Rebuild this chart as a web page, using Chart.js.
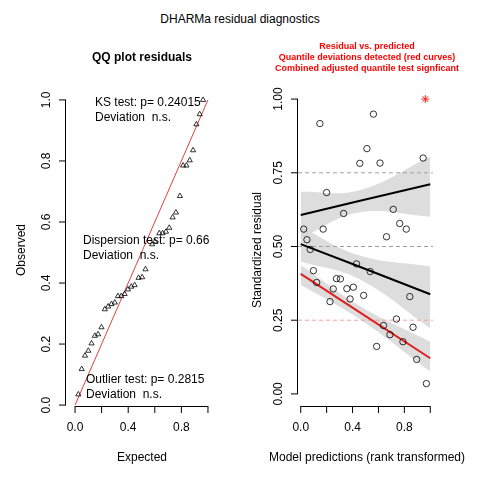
<!DOCTYPE html>
<html>
<head>
<meta charset="utf-8">
<script src="https://cdn.jsdelivr.net/npm/chart.js@4/dist/chart.umd.min.js"></script>
<style>
  body { margin: 0; background: #fff; }
  #wrap { position: relative; width: 480px; height: 480px; font-family: "Liberation Sans", Arial, sans-serif; }
  canvas { position: absolute; top: 0; }
  #title { position: absolute; top: 12px; left: 0; width: 480px; text-align: center; font-size: 12px; }
</style>
</head>
<body>
<div id="wrap">
  <div id="title">DHARMa residual diagnostics</div>
  <canvas id="qq" width="240" height="480" style="left:0"></canvas>
  <canvas id="res" width="240" height="480" style="left:240px"></canvas>
</div>
<script>
// QQ plot: expected vs observed quantiles
const qqExpected = [0.025, 0.05, 0.075, 0.1, 0.124, 0.149, 0.174, 0.199, 0.224, 0.249, 0.274, 0.299, 0.323,
  0.348, 0.373, 0.398, 0.423, 0.448, 0.478, 0.505, 0.53, 0.58, 0.602, 0.634, 0.659, 0.684, 0.709, 0.734,
  0.759, 0.789, 0.813, 0.838, 0.863, 0.888, 0.913, 0.938, 0.963];
const qqObserved = [0.035, 0.118, 0.162, 0.178, 0.202, 0.227, 0.232, 0.255, 0.314, 0.323, 0.331, 0.336, 0.357,
  0.357, 0.364, 0.379, 0.388, 0.393, 0.417, 0.419, 0.445, 0.527, 0.536, 0.563, 0.563, 0.568, 0.581, 0.615,
  0.631, 0.685, 0.785, 0.785, 0.802, 0.835, 0.92, 0.953, 1.0];

// residual vs predicted
const predX = [0.023, 0.048, 0.073, 0.098, 0.123, 0.148, 0.173, 0.2, 0.226, 0.251, 0.276, 0.306, 0.331, 0.356,
  0.381, 0.406, 0.431, 0.456, 0.486, 0.511, 0.536, 0.561, 0.586, 0.612, 0.639, 0.662, 0.689, 0.714, 0.739,
  0.764, 0.789, 0.815, 0.842, 0.867, 0.895, 0.945, 0.97];
const residY = [0.559, 0.523, 0.49, 0.418, 0.378, 0.917, 0.559, 0.683, 0.313, 0.356, 0.391, 0.39, 0.612, 0.357,
  0.322, 0.362, 0.441, 0.782, 0.334, 0.832, 0.415, 0.949, 0.161, 0.783, 0.232, 0.533, 0.201, 0.626, 0.254,
  0.578, 0.177, 0.559, 0.33, 0.226, 0.117, 0.8, 0.035];
const outlierX = [0.962];
const outlierY = [1.0];

// quantile regression fits (x = 0, 0.45, 1)
const fitX = [0, 0.45, 1];
const q75Line = [0.607, 0.654, 0.711], q75Top = [0.686, 0.69, 0.805], q75Bot = [0.528, 0.615, 0.601];
const q50Line = [0.508, 0.432, 0.338], q50Top = [0.567, 0.47, 0.432], q50Bot = [0.449, 0.39, 0.223];
const q25Line = [0.407, 0.278, 0.121], q25Top = [0.437, 0.3, 0.177], q25Bot = [0.37, 0.255, 0.076];
const refLevels = [0.25, 0.5, 0.75];

const qqTicks = [0, 0.2, 0.4, 0.6, 0.8, 1];
const qqTickLabels = ["0.0", "", "0.4", "", "0.8", ""];
const qqYLabels = ["0.0", "0.2", "0.4", "0.6", "0.8", "1.0"];
const resXTicks = [0, 0.2, 0.4, 0.6, 0.8, 1];
const resXLabels = ["0.0", "", "0.4", "", "0.8", ""];
const resYTicks = [0, 0.25, 0.5, 0.75, 1];
const resYLabels = ["0.00", "0.25", "0.50", "0.75", "1.00"];

const FONT = '12px "Liberation Sans", Arial, sans-serif';
const pts = (xs, ys) => xs.map((x, i) => ({ x, y: ys[i] }));

// R-style axes, titles and legend text
const rAxes = (cfg) => ({
  id: "rAxes",
  afterDraw(chart) {
    const { ctx, chartArea: a, scales: { x, y } } = chart;
    ctx.save();
    ctx.strokeStyle = "#000";
    ctx.fillStyle = "#000";
    ctx.lineWidth = 1;
    ctx.font = FONT;
    // x axis
    const x0 = x.getPixelForValue(cfg.xTicks[0]);
    const x1 = x.getPixelForValue(cfg.xTicks[cfg.xTicks.length - 1]);
    ctx.beginPath();
    ctx.moveTo(x0, a.bottom + 0.5);
    ctx.lineTo(x1, a.bottom + 0.5);
    cfg.xTicks.forEach((t) => {
      const px = x.getPixelForValue(t);
      ctx.moveTo(px, a.bottom);
      ctx.lineTo(px, a.bottom + 7);
    });
    ctx.stroke();
    ctx.textAlign = "center";
    ctx.textBaseline = "middle";
    cfg.xTicks.forEach((t, i) => {
      if (cfg.xLabels[i]) ctx.fillText(cfg.xLabels[i], x.getPixelForValue(t), a.bottom + 22);
    });
    // y axis
    const y0 = y.getPixelForValue(cfg.yTicks[0]);
    const y1 = y.getPixelForValue(cfg.yTicks[cfg.yTicks.length - 1]);
    ctx.beginPath();
    ctx.moveTo(a.left - 0.5, y0);
    ctx.lineTo(a.left - 0.5, y1);
    cfg.yTicks.forEach((t) => {
      const py = y.getPixelForValue(t);
      ctx.moveTo(a.left, py);
      ctx.lineTo(a.left - 7, py);
    });
    ctx.stroke();
    cfg.yTicks.forEach((t, i) => {
      ctx.save();
      ctx.translate(a.left - 19, y.getPixelForValue(t));
      ctx.rotate(-Math.PI / 2);
      ctx.fillText(cfg.yLabels[i], 0, 0);
      ctx.restore();
    });
    // axis titles
    ctx.fillText(cfg.xTitle, cfg.xTitlePos, 458);
    ctx.save();
    ctx.translate(cfg.yTitlePos, 250);
    ctx.rotate(-Math.PI / 2);
    ctx.fillText(cfg.yTitle, 0, 0);
    ctx.restore();
    // panel titles
    cfg.titles.forEach((t) => {
      ctx.font = t.font;
      ctx.fillStyle = t.color;
      ctx.fillText(t.text, t.x, t.y);
    });
    // annotations
    ctx.font = FONT;
    ctx.fillStyle = "#000";
    ctx.textAlign = "left";
    (cfg.notes || []).forEach((n) => ctx.fillText(n.text, n.x, n.y));
    ctx.restore();
  },
});

new Chart(document.getElementById("qq"), {
  type: "scatter",
  data: {
    datasets: [
      {
        data: pts(qqExpected, qqObserved),
        pointStyle: "triangle",
        pointRadius: 3,
        borderColor: "#000",
        borderWidth: 0.8,
        backgroundColor: "rgba(0,0,0,0)",
      },
      {
        type: "line",
        data: pts([0, 1], [0, 1]),
        borderColor: "#e04040",
        borderWidth: 1,
        pointRadius: 0,
      },
    ],
  },
  options: {
    responsive: false,
    animation: false,
    clip: false,
    layout: { padding: { left: 66, right: 23, top: 99, bottom: 74 } },
    scales: {
      x: { display: false, min: -0.068, max: 1.068 },
      y: { display: false, min: -0.003, max: 1.003 },
    },
    plugins: { legend: { display: false }, tooltip: { enabled: false } },
  },
  plugins: [
    rAxes({
      xTicks: qqTicks, xLabels: qqTickLabels, yTicks: qqTicks, yLabels: qqYLabels,
      xTitle: "Expected", xTitlePos: 142, yTitle: "Observed", yTitlePos: 22,
      titles: [{ text: "QQ plot residuals", x: 142, y: 58, font: 'bold 12px "Liberation Sans", Arial, sans-serif', color: "#000" }],
      notes: [
        { text: "KS test: p= 0.24015", x: 95, y: 103 },
        { text: "Deviation  n.s.", x: 95, y: 118 },
        { text: "Dispersion test: p= 0.66", x: 83, y: 241 },
        { text: "Deviation  n.s.", x: 83, y: 256 },
        { text: "Outlier test: p= 0.2815", x: 86, y: 380 },
        { text: "Deviation  n.s.", x: 86, y: 395 },
      ],
    }),
  ],
});

// bands: the top edge fills down to the bottom edge (next dataset)
const band = (xs, top, bot) => [
  { type: "line", data: pts(xs, top), borderWidth: 0, pointRadius: 0, tension: 0.4, fill: "+1", backgroundColor: "rgba(215,215,215,0.85)" },
  { type: "line", data: pts(xs, bot), borderWidth: 0, pointRadius: 0, tension: 0.4, fill: false },
];
const refLine = (lvl, color) => ({
  type: "line", data: pts([-0.021, 1.021], [lvl, lvl]), borderColor: color, borderWidth: 1,
  borderDash: [4, 3], pointRadius: 0,
});

// Chart.js paints the first dataset on top, so marks come first and bands last
new Chart(document.getElementById("res"), {
  type: "scatter",
  data: {
    datasets: [
      { data: pts(outlierX, outlierY), pointStyle: "star", pointRadius: 4, borderColor: "#ff2020", borderWidth: 1 },
      {
        data: pts(predX, residY), pointRadius: 3.2, borderColor: "#000", borderWidth: 0.8,
        backgroundColor: "rgba(0,0,0,0)",
      },
      { type: "line", data: pts(fitX, q75Line), borderColor: "#000", borderWidth: 2, pointRadius: 0 },
      { type: "line", data: pts(fitX, q50Line), borderColor: "#000", borderWidth: 2, pointRadius: 0 },
      { type: "line", data: pts(fitX, q25Line), borderColor: "#e02020", borderWidth: 2, pointRadius: 0 },
      refLine(refLevels[0], "#f4a0a0"),
      refLine(refLevels[1], "#a0a0a0"),
      refLine(refLevels[2], "#a0a0a0"),
      ...band(fitX, q75Top, q75Bot),
      ...band(fitX, q50Top, q50Bot),
      ...band(fitX, q25Top, q25Bot),
    ],
  },
  options: {
    responsive: false,
    animation: false,
    clip: false,
    layout: { padding: { left: 58, right: 47, top: 87, bottom: 74 } },
    scales: {
      x: { display: false, min: -0.021, max: 1.021 },
      y: { display: false, min: -0.041, max: 1.041 },
    },
    plugins: { legend: { display: false }, tooltip: { enabled: false } },
  },
  plugins: [
    rAxes({
      xTicks: resXTicks, xLabels: resXLabels, yTicks: resYTicks, yLabels: resYLabels,
      xTitle: "Model predictions (rank transformed)", xTitlePos: 127, yTitle: "Standardized residual", yTitlePos: 18,
      titles: [
        { text: "Residual vs. predicted", x: 127, y: 47, font: 'bold 9px "Liberation Sans", Arial, sans-serif', color: "#ff0000" },
        { text: "Quantile deviations detected (red curves)", x: 127, y: 58, font: 'bold 9px "Liberation Sans", Arial, sans-serif', color: "#ff0000" },
        { text: "Combined adjusted quantile test signficant", x: 127, y: 69, font: 'bold 9px "Liberation Sans", Arial, sans-serif', color: "#ff0000" },
      ],
    }),
  ],
});
</script>
</body>
</html>
